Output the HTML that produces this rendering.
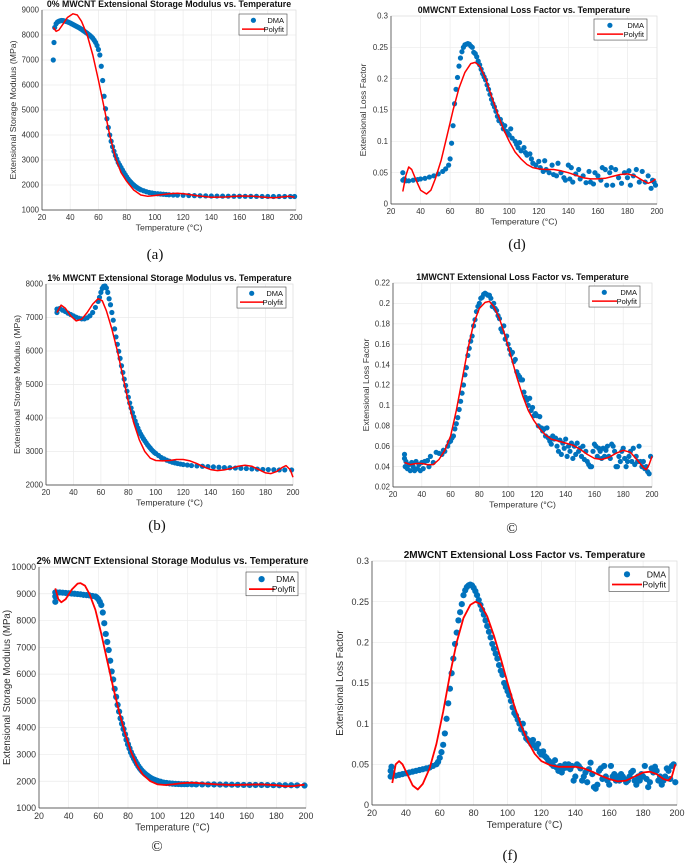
<!DOCTYPE html>
<html><head><meta charset="utf-8"><style>
html,body{margin:0;padding:0;background:#fff}
svg{display:block;font-family:"Liberation Sans",Arial,sans-serif}
.cap{font-family:"Liberation Serif",serif}
</style></head><body>
<svg id="fig" width="685" height="863" viewBox="0 0 685 863" xmlns="http://www.w3.org/2000/svg"></svg>
<script>
// ---- data ----
const aDmaT=[28,28.5,29,30,31,32,33,34,35,36,37,38,39,40,41,42,43,44,45,46,47,48,49,50,51,52,53,54,55,56,57,58,59,60,61,62,63,64,65,66,67,68,69,70,71,72,73,74,75,76,77,78,79,80,81,82,83,84,85,86,87,88,89,90,92,94,96,98,100,102,104,106,108,110,113,116,120,124,128,132,136,140,144,148,152,156,160,164,168,172,176,180,184,188,192,196,199];
const aDmaV=[7000,7700,8300,8450,8520,8550,8570,8580,8575,8560,8545,8530,8505,8480,8450,8420,8390,8360,8330,8300,8265,8230,8190,8150,8110,8070,8025,7980,7930,7870,7790,7700,7580,7420,7200,6750,6180,5550,5050,4650,4300,4000,3750,3530,3350,3180,3040,2900,2800,2700,2600,2500,2410,2320,2240,2170,2110,2050,2000,1950,1910,1870,1840,1810,1770,1730,1700,1680,1660,1650,1640,1630,1620,1610,1600,1595,1590,1580,1575,1570,1565,1560,1558,1555,1552,1550,1550,1548,1546,1545,1543,1542,1541,1540,1540,1540,1540];
const aFitT=[28,30,32,35,38,42,45,48,52,56,60,64,68,72,76,80,85,90,95,100,110,116,122,130,140,150,160,170,180,185,190,195,199];
const aFitV=[8300,8150,8200,8450,8700,8850,8800,8550,8000,7200,6200,5100,4000,3100,2500,2150,1800,1600,1550,1580,1650,1670,1640,1570,1510,1520,1560,1550,1500,1490,1520,1550,1510];

const bDmaT=[28,28,30,32,34,36,38,40,42,44,46,48,50,52,54,56,58,59,60,61,62,63,64,65,66,67,68,69,70,71,72,73,74,75,76,77,78,79,80,81,82,83,84,85,86,87,88,89,90,91,92,93,94,95,96,97,98,99,100,102,104,106,108,110,112,114,116,118,120,123,126,130,134,138,142,146,150,154,158,162,166,170,174,178,182,186,190,194,199];
const bDmaV=[7150,7250,7270,7220,7180,7130,7090,7050,7010,6980,6960,6960,6990,7050,7150,7300,7480,7600,7750,7870,7930,7940,7880,7750,7560,7380,7150,6920,6660,6420,6200,5990,5780,5560,5360,5160,4970,4800,4620,4450,4300,4160,4030,3910,3800,3700,3600,3520,3450,3380,3320,3260,3200,3150,3100,3050,3010,2970,2940,2880,2820,2780,2740,2710,2680,2660,2640,2625,2610,2595,2580,2570,2560,2550,2540,2530,2520,2515,2505,2500,2490,2480,2475,2465,2460,2455,2450,2450,2450];
const bFitT=[28,31,34,38,42,46,50,54,58,61,64,68,72,76,80,84,88,92,96,100,105,110,115,120,125,130,135,140,145,150,155,160,165,170,175,180,184,188,192,195,198,200];
const bFitV=[7150,7370,7280,7050,6900,6950,7150,7400,7560,7500,7200,6650,6000,5250,4500,3850,3350,3000,2800,2730,2720,2730,2760,2760,2720,2640,2540,2460,2430,2450,2500,2560,2590,2560,2460,2360,2340,2400,2520,2580,2450,2230];

const eDmaT=[31,31,31,32,34,36,38,40,42,44,46,48,50,52,54,56,58,59,60,61,62,63,64,65,66,67,68,69,70,71,72,73,74,75,76,77,78,79,80,81,82,83,84,85,86,87,88,89,90,91,92,93,94,95,96,97,98,99,100,102,104,106,108,110,112,114,116,118,120,123,126,130,134,138,142,146,150,154,158,162,166,170,174,178,182,186,190,194,199];
const eDmaV=[8700,8900,9050,9050,9050,9040,9030,9020,9010,9000,8990,8980,8960,8950,8940,8920,8900,8860,8800,8700,8580,8300,7900,7500,7200,6900,6500,6100,5800,5450,5150,4850,4600,4350,4150,3950,3750,3550,3380,3230,3080,2960,2850,2750,2650,2560,2480,2410,2350,2300,2250,2210,2170,2130,2100,2070,2050,2030,2010,1980,1950,1935,1920,1910,1900,1895,1890,1890,1890,1885,1880,1880,1880,1878,1875,1872,1870,1866,1862,1860,1860,1860,1856,1852,1850,1850,1850,1846,1840];
const eFitT=[31,33,35,38,42,46,48,51,54,58,62,66,70,74,78,82,86,90,95,100,105,110,115,120,125,130,140,150,160,170,180,186,192,196,199];
const eFitV=[9200,8800,8680,8800,9150,9380,9400,9300,9000,8400,7500,6500,5500,4600,3800,3100,2600,2250,2000,1880,1860,1880,1920,1940,1940,1920,1880,1860,1870,1880,1850,1810,1820,1850,1870];

const dDmaT=[28,28,29,30,32,35,38,40,43,46,49,52,55,57,59,60,61,62,63,64,65,66,67,68,69,70,71,72,73,74,75,76,77,78,79,80,81,82,83,84,85,86,87,88,89,90,91,92,93,94,95,96,97,98,99,100,101,102,104,105,106,107,108,110,111,112,114,115,116,118,120,121,123,124,125,127,129,130,132,133,135,137,138,140,141,142,143,145,147,148,150,152,154,155,157,158,160,162,163,165,166,168,169,170,172,174,176,178,180,181,182,184,186,188,190,192,194,196,197,198,199];
const dDmaV=[0.05,0.038,0.04,0.037,0.037,0.038,0.039,0.04,0.041,0.043,0.045,0.048,0.052,0.056,0.062,0.072,0.097,0.125,0.16,0.183,0.202,0.22,0.233,0.243,0.25,0.254,0.255,0.256,0.255,0.252,0.25,0.242,0.24,0.235,0.228,0.222,0.215,0.208,0.203,0.198,0.19,0.183,0.175,0.167,0.16,0.155,0.148,0.14,0.133,0.135,0.128,0.12,0.125,0.116,0.113,0.11,0.12,0.105,0.1,0.095,0.09,0.098,0.085,0.09,0.082,0.078,0.08,0.072,0.065,0.062,0.068,0.058,0.052,0.069,0.055,0.05,0.062,0.047,0.045,0.065,0.05,0.042,0.038,0.062,0.04,0.058,0.035,0.048,0.055,0.04,0.045,0.034,0.052,0.035,0.032,0.05,0.045,0.038,0.058,0.055,0.03,0.05,0.058,0.03,0.055,0.042,0.033,0.05,0.042,0.053,0.03,0.045,0.055,0.035,0.052,0.035,0.045,0.025,0.038,0.035,0.03];
const dFitT=[28,30,32,34,37,40,44,47,50,54,58,62,66,70,74,77,80,84,88,92,96,100,104,108,112,116,120,125,130,135,140,145,150,155,160,165,170,175,180,185,190,194,197,199];
const dFitV=[0.02,0.045,0.059,0.055,0.038,0.022,0.016,0.022,0.04,0.07,0.11,0.15,0.185,0.21,0.224,0.226,0.22,0.2,0.172,0.145,0.12,0.1,0.083,0.072,0.063,0.058,0.056,0.055,0.055,0.053,0.05,0.046,0.042,0.04,0.04,0.041,0.044,0.047,0.048,0.045,0.038,0.033,0.036,0.04];

const cDmaT=[28,28,28.5,29,30,31,32,33,34,35,36,37,38,39,40,41,42,44,45,46,48,50,52,54,55,56,58,59,60,61,62,63,64,65,66,67,68,69,70,71,72,73,74,75,76,77,78,79,80,81,82,83,84,85,86,87,88,89,90,91,92,93,94,95,96,97,98,99,100,101,102,103,104,105,106,107,108,109,110,111,112,113,114,115,116,117,118,119,120,121,122,123,124,125,126,127,128,129,130,131,132,133,134,135,136,137,138,139,140,141,142,143,144,145,146,147,148,149,150,151,152,153,154,155,156,157,158,159,160,161,162,163,164,165,166,167,168,169,170,171,172,173,174,175,176,177,178,179,180,181,182,183,184,185,186,187,188,189,190,191,192,193,194,195,196,197,198,199];
const cDmaV=[0.052,0.048,0.04,0.045,0.038,0.042,0.036,0.044,0.04,0.036,0.045,0.038,0.042,0.036,0.044,0.038,0.045,0.046,0.04,0.05,0.044,0.054,0.053,0.052,0.056,0.055,0.06,0.064,0.065,0.068,0.07,0.077,0.082,0.088,0.096,0.104,0.112,0.12,0.13,0.137,0.149,0.156,0.163,0.168,0.178,0.184,0.192,0.197,0.2,0.205,0.206,0.209,0.21,0.209,0.208,0.208,0.205,0.197,0.2,0.195,0.193,0.188,0.185,0.175,0.172,0.178,0.165,0.168,0.16,0.155,0.15,0.152,0.143,0.145,0.133,0.13,0.128,0.125,0.125,0.113,0.108,0.105,0.1,0.107,0.095,0.098,0.09,0.092,0.09,0.08,0.089,0.078,0.075,0.077,0.07,0.078,0.068,0.065,0.062,0.07,0.067,0.068,0.06,0.055,0.066,0.052,0.063,0.058,0.067,0.05,0.06,0.055,0.063,0.048,0.06,0.052,0.063,0.055,0.058,0.05,0.06,0.047,0.055,0.045,0.042,0.04,0.04,0.055,0.062,0.06,0.05,0.058,0.055,0.048,0.058,0.05,0.056,0.06,0.05,0.048,0.062,0.06,0.055,0.04,0.04,0.05,0.045,0.055,0.058,0.048,0.04,0.045,0.05,0.055,0.045,0.058,0.042,0.05,0.045,0.06,0.045,0.04,0.045,0.038,0.04,0.035,0.033,0.05];
const cFitT=[28,32,36,40,44,48,52,56,60,64,68,72,76,80,84,87,90,94,98,102,106,110,114,118,122,126,130,135,140,145,150,155,160,165,170,175,180,185,190,194,196,198,200];
const cFitV=[0.044,0.042,0.043,0.043,0.042,0.042,0.047,0.056,0.07,0.095,0.125,0.155,0.18,0.195,0.201,0.202,0.197,0.185,0.168,0.148,0.128,0.11,0.095,0.085,0.077,0.071,0.067,0.065,0.063,0.061,0.057,0.052,0.048,0.047,0.049,0.053,0.056,0.054,0.046,0.039,0.037,0.042,0.05];

const fDmaT=[31,31,31.5,32,34,36,38,40,42,44,46,48,50,52,54,56,58,59,60,61,62,63,64,65,66,67,68,69,70,71,72,73,74,75,76,77,78,79,80,81,82,83,84,85,86,87,88,89,90,91,92,93,94,95,96,97,98,99,100,101,102,103,104,105,106,107,108,109,110,111,112,113,114,115,116,117,118,119,120,121,122,123,124,125,126,127,128,129,130,131,132,133,134,135,136,137,138,139,140,141,142,143,144,145,146,147,148,149,150,151,152,153,154,155,156,157,158,159,160,161,162,163,164,165,166,167,168,169,170,171,172,173,174,175,176,177,178,179,180,181,182,183,184,185,186,187,188,189,190,191,192,193,194,195,196,197,198,199];
const fDmaV=[0.035,0.042,0.047,0.037,0.036,0.037,0.038,0.039,0.04,0.041,0.042,0.043,0.044,0.045,0.046,0.048,0.05,0.053,0.058,0.065,0.074,0.088,0.106,0.125,0.143,0.162,0.18,0.198,0.212,0.227,0.237,0.247,0.258,0.264,0.268,0.27,0.271,0.27,0.267,0.263,0.258,0.252,0.246,0.24,0.234,0.227,0.22,0.213,0.206,0.198,0.192,0.186,0.18,0.172,0.165,0.16,0.15,0.145,0.14,0.135,0.128,0.12,0.113,0.11,0.105,0.1,0.093,0.1,0.088,0.082,0.08,0.078,0.075,0.08,0.073,0.07,0.075,0.065,0.062,0.066,0.06,0.058,0.055,0.053,0.05,0.048,0.055,0.046,0.042,0.048,0.04,0.045,0.05,0.046,0.05,0.044,0.048,0.03,0.035,0.05,0.048,0.045,0.03,0.035,0.04,0.028,0.044,0.052,0.038,0.022,0.02,0.025,0.042,0.045,0.032,0.048,0.035,0.03,0.025,0.048,0.035,0.038,0.03,0.035,0.03,0.038,0.035,0.032,0.028,0.03,0.035,0.04,0.042,0.03,0.025,0.035,0.03,0.038,0.035,0.048,0.032,0.022,0.028,0.045,0.04,0.047,0.042,0.03,0.035,0.025,0.03,0.035,0.045,0.042,0.032,0.048,0.05,0.028];
const fFitT=[32,34,36,38,41,44,47,50,54,58,62,66,70,74,78,81,84,88,92,96,100,104,108,112,116,120,125,130,135,140,145,150,155,160,165,170,175,180,184,188,192,195,197,199];
const fFitV=[0.027,0.05,0.054,0.05,0.037,0.024,0.019,0.026,0.045,0.075,0.115,0.16,0.2,0.23,0.246,0.25,0.247,0.232,0.208,0.18,0.15,0.122,0.098,0.078,0.063,0.054,0.049,0.047,0.047,0.047,0.045,0.041,0.036,0.032,0.029,0.03,0.035,0.04,0.041,0.038,0.032,0.03,0.035,0.05];

const xTicks=[20,40,60,80,100,120,140,160,180,200];
const aYTicks=[1000,2000,3000,4000,5000,6000,7000,8000,9000];
const bYTicks=[2000,3000,4000,5000,6000,7000,8000];
const eYTicks=[1000,2000,3000,4000,5000,6000,7000,8000,9000,10000];
const dYTicks=[0,0.05,0.1,0.15,0.2,0.25,0.3];
const dYLabels=["0","0.05","0.1","0.15","0.2","0.25","0.3"];
const cYTicks=[0.02,0.04,0.06,0.08,0.1,0.12,0.14,0.16,0.18,0.2,0.22];
const cYLabels=["0.02","0.04","0.06","0.08","0.1","0.12","0.14","0.16","0.18","0.2","0.22"];

const NS="http://www.w3.org/2000/svg";
const svg=document.getElementById('fig');
function mk(tag,attrs,parent){const e=document.createElementNS(NS,tag);for(const k in attrs)e.setAttribute(k,attrs[k]);(parent||svg).appendChild(e);return e;}

function panel(p){
  const g=mk('g',{});
  
  
  const sx=v=>p.x0+(v-20)/180*(p.x1-p.x0);
  const sy=v=>p.yb-(v-p.ymin)/(p.ymax-p.ymin)*(p.yb-p.yt);
  const fs=p.fs;
  xTicks.forEach(t=>{mk('line',{x1:sx(t),x2:sx(t),y1:p.yt,y2:p.yb,stroke:'#ebebeb','stroke-width':0.7},g);});
  p.yTicks.forEach(t=>{mk('line',{x1:p.x0,x2:p.x1,y1:sy(t),y2:sy(t),stroke:'#ebebeb','stroke-width':0.7},g);});
  mk('rect',{x:p.x0,y:p.yt,width:p.x1-p.x0,height:p.yb-p.yt,fill:'none',stroke:'#e0e0e0','stroke-width':0.7},g);
  mk('line',{x1:p.x0,x2:p.x0,y1:p.yt,y2:p.yb,stroke:'#333','stroke-width':0.7},g);
  mk('line',{x1:p.x0,x2:p.x1,y1:p.yb,y2:p.yb,stroke:'#333','stroke-width':0.7},g);
  xTicks.forEach(t=>{const e=mk('text',{x:sx(t),y:p.yb+fs+2,'font-size':fs,fill:'#333','text-anchor':'middle'},g);e.textContent=t;
    
    });
  p.yTicks.forEach((t,i)=>{const e=mk('text',{x:p.x0-3,y:sy(t)+fs*0.35,'font-size':fs,fill:'#333','text-anchor':'end'},g);e.textContent=p.yLabels?p.yLabels[i]:t;
    
    });
  const xt=mk('text',{x:(p.x0+p.x1)/2,y:p.yb+fs*2+5,'font-size':fs+0.9,fill:'#333','text-anchor':'middle'},g);xt.textContent='Temperature (°C)';
  
  
  const yt=mk('text',{x:p.yx,y:(p.yt+p.yb)/2,'font-size':fs+0.9,fill:'#333','text-anchor':'middle',transform:`rotate(-90 ${p.yx} ${(p.yt+p.yb)/2})`},g);yt.textContent=p.ylab;
  
  
  const tt=mk('text',{x:(p.x0+p.x1)/2,y:p.yt-3,'font-size':fs+1,'font-weight':'bold',fill:'#111','text-anchor':'middle'},g);tt.textContent=p.title;
  
  
  p.dT.forEach((t,i)=>{const c=mk('circle',{cx:sx(t),cy:sy(p.dV[i]),r:p.r,fill:'#0072BD'},g);
    
    });
  const d=p.fT.map((t,i)=>(i?'L':'M')+sx(t).toFixed(1)+' '+sy(p.fV[i]).toFixed(1)).join(' ');
  const l=mk('path',{d:d,fill:'none',stroke:'#ff0000','stroke-width':p.lw,'stroke-linejoin':'round'},g);
  
  
  const lw=p.legW,lh=fs*2.7,lx=p.x1-lw-p.legR,ly=p.yt+p.legT;
  const lg=mk('g',{},g);
  
  
  mk('rect',{x:lx,y:ly,width:lw,height:lh,fill:'#fff',stroke:'#444','stroke-width':0.6},lg);
  mk('circle',{cx:lx+lw*0.3,cy:ly+lh*0.3,r:p.r,fill:'#0072BD'},lg);
  mk('line',{x1:lx+3,x2:lx+lw*0.55,y1:ly+lh*0.72,y2:ly+lh*0.72,stroke:'#ff0000','stroke-width':p.lw},lg);
  const t1=mk('text',{x:lx+lw-3,y:ly+lh*0.3+fs*0.35,'font-size':fs-0.3,'text-anchor':'end',fill:'#111'},lg);t1.textContent='DMA';
  
  
  const t2=mk('text',{x:lx+lw-3,y:ly+lh*0.72+fs*0.35,'font-size':fs-0.3,'text-anchor':'end',fill:'#111'},lg);t2.textContent='Polyfit';
  
  
  const cp=mk('text',{x:p.capX,y:p.capY,'font-size':15,'text-anchor':'middle',fill:'#111',class:'cap'},g);cp.textContent=p.cap;
  
  
}
const SM='Extensional Storage Modulus (MPa)',LF='Extensional Loss Factor';
panel({name:'chart-a',x0:42,x1:296,yt:10,yb:210,ymin:1000,ymax:9000,yTicks:aYTicks,fs:7.8,r:2.6,lw:1.5,ylab:SM,yx:16,title:'0% MWCNT Extensional Storage Modulus vs. Temperature',dT:aDmaT,dV:aDmaV,fT:aFitT,fV:aFitV,legW:48,legR:9,legT:4,cap:'(a)',capX:155,capY:259});
panel({name:'chart-d',x0:391,x1:657,yt:16,yb:204,ymin:0,ymax:0.3,yTicks:dYTicks,yLabels:dYLabels,fs:7.8,r:2.6,lw:1.5,ylab:LF,yx:366,title:'0MWCNT Extensional Loss Factor vs. Temperature',dT:dDmaT,dV:dDmaV,fT:dFitT,fV:dFitV,legW:53,legR:10,legT:3,cap:'(d)',capX:517,capY:249});
panel({name:'chart-b',x0:46,x1:293,yt:284,yb:485,ymin:2000,ymax:8000,yTicks:bYTicks,fs:7.8,r:2.6,lw:1.5,ylab:SM,yx:20,title:'1% MWCNT Extensional Storage Modulus vs. Temperature',dT:bDmaT,dV:bDmaV,fT:bFitT,fV:bFitV,legW:49,legR:7,legT:3,cap:'(b)',capX:157,capY:530});
panel({name:'chart-c',x0:393,x1:652,yt:283,yb:487,ymin:0.02,ymax:0.22,yTicks:cYTicks,yLabels:cYLabels,fs:7.8,r:2.6,lw:1.5,ylab:LF,yx:369,title:'1MWCNT Extensional Loss Factor vs. Temperature',dT:cDmaT,dV:cDmaV,fT:cFitT,fV:cFitV,legW:51,legR:12,legT:3,cap:'©',capX:512,capY:533});
panel({name:'chart-e',x0:39,x1:306,yt:567,yb:808,ymin:1000,ymax:10000,yTicks:eYTicks,fs:8.8,r:3.1,lw:1.8,ylab:SM,yx:10,title:'2% MWCNT Extensional Storage Modulus vs. Temperature',dT:eDmaT,dV:eDmaV,fT:eFitT,fV:eFitV,legW:52,legR:8,legT:5,cap:'©',capX:157,capY:851});
panel({name:'chart-f',x0:372,x1:677,yt:561,yb:805,ymin:0,ymax:0.3,yTicks:dYTicks,yLabels:dYLabels,fs:9,r:3.1,lw:1.8,ylab:LF,yx:343,title:'2MWCNT Extensional Loss Factor vs. Temperature',dT:fDmaT,dV:fDmaV,fT:fFitT,fV:fFitV,legW:60,legR:8,legT:6,cap:'(f)',capX:510,capY:860});
</script>
</body></html>
